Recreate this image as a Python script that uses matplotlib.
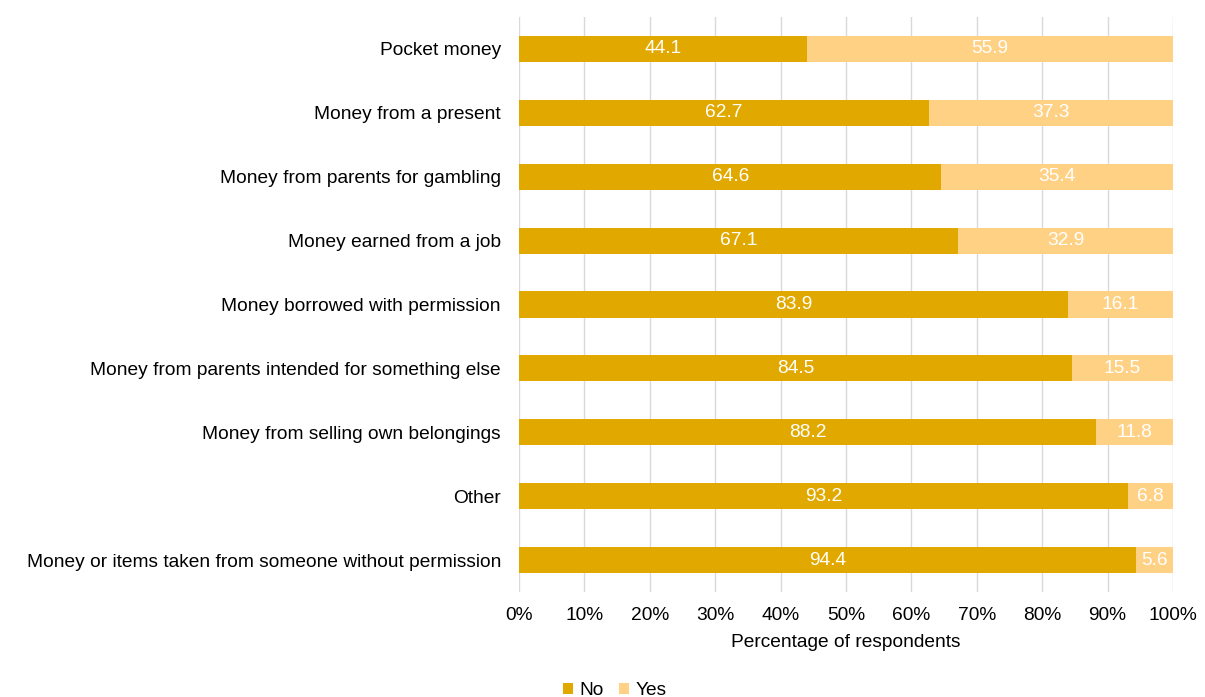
import matplotlib.pyplot as plt

plt.rcParams['font.family'] = ['Liberation Sans', 'DejaVu Sans']

categories = [
    "Pocket money",
    "Money from a present",
    "Money from parents for gambling",
    "Money earned from a job",
    "Money borrowed with permission",
    "Money from parents intended for something else",
    "Money from selling own belongings",
    "Other",
    "Money or items taken from someone without permission",
]
no_vals = [44.1, 62.7, 64.6, 67.1, 83.9, 84.5, 88.2, 93.2, 94.4]
yes_vals = [55.9, 37.3, 35.4, 32.9, 16.1, 15.5, 11.8, 6.8, 5.6]
ticks = [0, 10, 20, 30, 40, 50, 60, 70, 80, 90, 100]

c_no = "#E1A900"
c_yes = "#FFD185"
fs = 13.8

fig = plt.figure(figsize=(12.05, 6.97), dpi=100)
ax = fig.add_axes([0.4307, 1 - 592 / 697, 0.5427, 575 / 697])

y = list(range(len(categories)))
b1 = ax.barh(y, no_vals, height=0.41, color=c_no, label="No")
b2 = ax.barh(y, yes_vals, left=no_vals, height=0.41, color=c_yes, label="Yes")
ax.bar_label(b1, labels=[f"{v:.1f}" for v in no_vals], label_type="center",
             color="white", fontsize=fs)
ax.bar_label(b2, labels=[f"{v:.1f}" for v in yes_vals], label_type="center",
             color="white", fontsize=fs)

ax.set_ylim(len(categories) - 0.5, -0.5)
ax.set_xlim(0, 100)
ax.set_yticks(y)
ax.set_yticklabels(categories, fontsize=fs)
ax.set_xticks(ticks)
ax.set_xticklabels([f"{t}%" for t in ticks], fontsize=fs)
ax.tick_params(length=0)
ax.tick_params(axis='y', pad=13)
ax.tick_params(axis='x', pad=11)
ax.grid(axis='x', color="#d9d9d9", linewidth=1)
ax.set_axisbelow(True)
for s in ax.spines.values():
    s.set_visible(False)
ax.set_xlabel("Percentage of respondents", fontsize=fs, labelpad=7)

fig.legend(handles=[b1, b2], loc="lower center", bbox_to_anchor=(0.51, -0.028),
           ncol=2, frameon=False, fontsize=fs, handlelength=0.55, handleheight=0.55,
           handletextpad=0.3, columnspacing=0.8)

fig.savefig("out.png", dpi=100)
